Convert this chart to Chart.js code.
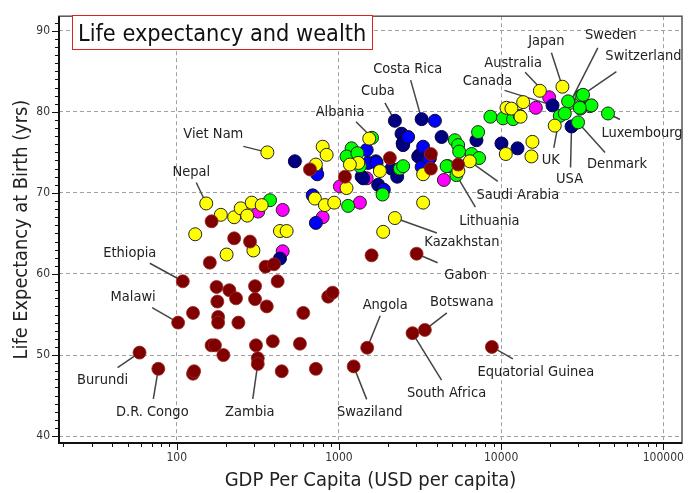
<!DOCTYPE html>
<html>
<head>
<meta charset="utf-8">
<script src="https://cdn.jsdelivr.net/npm/chart.js@4.4.0/dist/chart.umd.min.js"></script>
<style>
  html, body { margin: 0; padding: 0; background: #fff; }
</style>
</head>
<body>
<canvas id="chart" width="693" height="493"></canvas>
<script>
// Datos: [PIB per cápita (USD), esperanza de vida (años), país etiquetado]
const africa = [
  [109, 59.1, 'Ethiopia'], [102, 54.0, 'Malawi'], [59, 50.3, 'Burundi'], [77, 48.3, 'D.R. Congo'],
  [126, 55.2], [126, 47.7], [128, 48.0], [160, 61.4], [176, 58.4], [178, 56.6], [180, 54.7], [180, 54.0],
  [164, 51.2], [172, 51.2], [194, 50.0], [211, 58.0], [232, 57.0], [240, 54.0], [226, 64.4], [283, 64.0],
  [304, 58.5], [304, 56.9], [308, 51.2], [316, 49.6], [316, 48.9, 'Zambia'], [359, 56.0], [353, 60.9],
  [398, 61.2], [419, 59.1], [391, 51.7], [444, 48.0], [575, 51.4], [603, 55.2], [721, 48.3], [859, 57.2],
  [914, 57.7], [1233, 48.6, 'Swaziland'], [1590, 62.3], [3013, 62.5, 'Gabon'], [1494, 50.9, 'Angola'],
  [2844, 52.7, 'South Africa'], [3388, 53.1, 'Botswana'], [8770, 51.0, 'Equatorial Guinea'],
  [164, 66.5], [663, 72.9], [1089, 72.0], [2061, 74.3], [3690, 74.8], [3690, 73.0], [5433, 73.5]
];
const asia = [
  [362, 75.0, 'Viet Nam'], [152, 68.7, 'Nepal'], [130, 64.9], [187, 67.3], [226, 67.0], [248, 68.1],
  [272, 67.2], [290, 68.8], [334, 68.5], [433, 65.3], [476, 65.3], [203, 62.4], [297, 62.9], [794, 75.7],
  [840, 74.7], [721, 73.5], [711, 69.3], [820, 68.5], [935, 68.8], [1538, 76.7], [1316, 73.7], [1169, 73.5],
  [1789, 72.7], [2214, 66.9, 'Kazakhstan'], [1875, 65.2], [3305, 68.8], [3305, 72.3],
  [6412, 73.9, 'Saudi Arabia'], [10790, 80.5], [13030, 79.5], [13680, 81.2], [11580, 80.4], [13180, 79.4],
  [10690, 74.8], [15600, 76.3], [15380, 74.5], [23880, 83.1, 'Japan'], [17340, 82.6], [21420, 78.3],
  [5450, 72.7], [1114, 70.6]
];
const europe = [
  [376, 69.1], [1600, 76.8, 'Albania'], [1197, 75.5], [1256, 74.5], [1140, 68.4], [1114, 74.5], [2376, 73.0],
  [2489, 73.3], [1858, 69.8], [5188, 76.5], [5433, 75.9], [5510, 75.1], [4710, 73.3], [4613, 73.3],
  [5300, 72.2, 'Lithuania'], [6577, 74.8], [7311, 74.3], [7211, 77.5], [8590, 79.4], [10280, 79.2],
  [11860, 79.1], [26530, 81.1, 'Sweden'], [31260, 82.0, 'Switzerland'], [23000, 79.5, 'UK'],
  [29810, 78.7, 'Denmark'], [45600, 79.8, 'Luxembourg'], [25880, 81.3], [31990, 82.1], [35200, 80.7],
  [30830, 80.4], [24700, 79.8], [36060, 80.8], [30540, 80.5], [1347, 73.3], [1300, 74.9]
];
const northAmerica = [
  [2214, 78.9, 'Cuba'], [3236, 79.1, 'Costa Rica'], [27180, 78.2, 'USA'], [20750, 80.8, 'Canada'],
  [535, 73.9], [721, 72.9], [2432, 77.3], [2470, 76.1], [4295, 76.9], [3083, 74.5], [1380, 72.0],
  [1746, 71.0], [2287, 72.0], [2111, 73.0], [1413, 71.8], [10050, 76.1], [12620, 75.5], [7046, 76.5],
  [2489, 75.9], [433, 61.9], [3155, 74.7]
];
const southAmerica = [
  [3908, 78.9], [2672, 76.9], [3305, 75.7], [3639, 74.3], [3236, 73.2], [735, 72.3], [689, 69.7],
  [721, 66.3], [1892, 70.4], [1483, 75.3], [1690, 73.9], [1516, 73.7], [1706, 73.7], [3597, 74.2]
];
const oceania = [
  [318, 67.7], [450, 67.9], [794, 67.0], [450, 62.8], [1014, 70.8], [1347, 68.8], [4436, 71.6],
  [19770, 81.8, 'Australia'], [16370, 80.5], [1483, 71.8]
];

const yMajor = [40, 50, 60, 70, 80, 90];
const xMajor = [100, 1000, 10000, 100000];

// Posición de cada etiqueta respecto a su punto (px): centro del texto y arranque de la línea
const labelOffsets = {
  'Ethiopia': [-53, -28, -33, -18], 'Malawi': [-45, -25, -26, -15], 'Burundi': [-37, 28, -22, 15],
  'D.R. Congo': [-6, 43, -5, 30], 'Zambia': [-8, 48, -5, 35], 'Swaziland': [16, 46, 13, 33],
  'Angola': [18, -43, 13, -32], 'South Africa': [34, 60, 29, 47], 'Botswana': [37, -28, 22, -17],
  'Equatorial Guinea': [44, 25, 21, 12], 'Gabon': [49, 22, 21, 9], 'Kazakhstan': [67, 24, 42, 15],
  'Lithuania': [33, 46, 19, 32], 'Saudi Arabia': [48, 34, 28, 20], 'Viet Nam': [-54, -18, -24, -6],
  'Nepal': [-15, -31, -10, -21], 'Albania': [-32, -26, -16, -16], 'Cuba': [-17, -30, -10, -18],
  'Costa Rica': [-14, -50, -11, -39], 'Canada': [-65, -24, -48, -15], 'Australia': [-36, -34, -24, -25],
  'Japan': [-16, -45, -11, -34], 'Sweden': [41, -68, 28, -55], 'Switzerland': [62, -39, 35, -24],
  'Luxembourg': [34, 20, 12, 6], 'Denmark': [39, 42, 27, 30], 'UK': [-9, 44, -6, 32], 'USA': [-2, 53, -1, 41]
};

const FONT = "'DejaVu Sans Condensed', 'DejaVu Sans', sans-serif";

const yTicks = [];
for (let v = 40; v <= 91; v++) yTicks.push(v);
const xTicks = [];
[10, 100, 1000, 10000, 100000].forEach(d => { for (let m = 1; m <= 9; m++) if (d * m >= 20 && d * m <= 100000) xTicks.push(d * m); });

const toPoints = arr => arr.map(p => ({ x: p[0], y: p[1], name: p[2] }));

function makeSet(label, arr, fill, border) {
  return {
    label: label,
    data: toPoints(arr),
    backgroundColor: fill,
    borderColor: border,
    borderWidth: 1,
    pointRadius: 6.5,
    pointHoverRadius: 6.5
  };
}

const allSets = [africa, asia, europe, northAmerica, southAmerica, oceania];

function labelled(chart) {
  const out = [];
  allSets.forEach(s => s.forEach(p => {
    if (p[2]) out.push({ name: p[2], px: chart.scales.x.getPixelForValue(p[0]), py: chart.scales.y.getPixelForValue(p[1]) });
  }));
  return out;
}

const decor = {
  id: 'decor',
  beforeDatasetsDraw(chart) {
    const ctx = chart.ctx, a = chart.chartArea;
    ctx.save();
    ctx.beginPath(); ctx.rect(a.left, a.top, a.right - a.left, a.bottom - a.top); ctx.clip();
    ctx.strokeStyle = '#444'; ctx.lineWidth = 1.5;
    labelled(chart).forEach(l => {
      const o = labelOffsets[l.name];
      ctx.beginPath(); ctx.moveTo(l.px + o[2], l.py + o[3]); ctx.lineTo(l.px, l.py); ctx.stroke();
    });
    ctx.restore();
  },
  afterDatasetsDraw(chart) {
    const ctx = chart.ctx, a = chart.chartArea;
    ctx.save();
    ctx.beginPath(); ctx.rect(a.left, a.top, a.right - a.left, a.bottom - a.top); ctx.clip();
    ctx.font = '14.5px ' + FONT; ctx.fillStyle = '#222'; ctx.textAlign = 'center'; ctx.textBaseline = 'middle';
    labelled(chart).forEach(l => {
      const o = labelOffsets[l.name];
      ctx.fillText(l.name, l.px + o[0], l.py + o[1]);
    });
    ctx.restore();
  },
  afterDraw(chart) {
    const ctx = chart.ctx, a = chart.chartArea, sx = chart.scales.x, sy = chart.scales.y;
    ctx.save();
    // marco
    ctx.strokeStyle = '#555'; ctx.lineWidth = 1.5;
    ctx.strokeRect(a.left, a.top, a.right - a.left, a.bottom - a.top);
    ctx.strokeStyle = '#111'; ctx.lineWidth = 2;
    ctx.beginPath(); ctx.moveTo(a.left, a.top); ctx.lineTo(a.left, a.bottom); ctx.lineTo(a.right, a.bottom); ctx.stroke();
    // marcas de los ejes
    ctx.lineWidth = 1;
    yTicks.forEach(v => {
      const y = Math.round(sy.getPixelForValue(v)) + 0.5, len = yMajor.includes(v) ? 7 : 4;
      ctx.beginPath(); ctx.moveTo(a.left, y); ctx.lineTo(a.left - len, y); ctx.stroke();
    });
    xTicks.forEach(v => {
      const x = Math.round(sx.getPixelForValue(v)) + 0.5, len = xMajor.includes(v) ? 7 : 4;
      ctx.beginPath(); ctx.moveTo(x, a.bottom); ctx.lineTo(x, a.bottom + len); ctx.stroke();
    });
    // recuadro del título
    ctx.fillStyle = '#fff'; ctx.fillRect(72.5, 15.5, 300, 34);
    ctx.strokeStyle = '#e02020'; ctx.lineWidth = 1; ctx.strokeRect(72.5, 15.5, 300, 34);
    ctx.fillStyle = '#111'; ctx.font = '23.3px ' + FONT; ctx.textAlign = 'left'; ctx.textBaseline = 'alphabetic';
    ctx.fillText('Life expectancy and wealth', 78, 41);
    ctx.restore();
  }
};

const gridColor = major => ctx => (ctx.tick && major.includes(ctx.tick.value)) ? '#a0a0a0' : 'rgba(0,0,0,0)';

new Chart(document.getElementById('chart'), {
  type: 'scatter',
  data: {
    datasets: [
      makeSet('Africa', africa, '#800000', 'rgba(150,40,40,0.8)'),
      makeSet('Asia', asia, '#ffff00', '#222'),
      makeSet('Europe', europe, '#00ff00', '#222'),
      makeSet('South America', southAmerica, '#0000ff', '#111'),
      makeSet('North America', northAmerica, '#000080', '#000050'),
      makeSet('Oceania', oceania, '#ff00ff', '#222')
    ]
  },
  options: {
    responsive: false,
    animation: false,
    devicePixelRatio: 1,
    layout: { padding: { top: 7, right: 11, left: 0, bottom: 0 } },
    plugins: { legend: { display: false }, tooltip: { enabled: false } },
    scales: {
      x: {
        type: 'logarithmic',
        min: 18.8, max: 130400,
        afterBuildTicks: s => { s.ticks = xTicks.map(v => ({ value: v })); },
        afterFit: s => { s.height = 50; },
        grid: { color: gridColor(xMajor), drawTicks: false },
        border: { display: false, dash: [4, 3] },
        ticks: {
          autoSkip: false, maxRotation: 0, padding: 8, color: '#333',
          font: { family: FONT, size: 12 },
          callback: v => xMajor.includes(v) ? String(v) : ''
        },
        title: { display: true, text: 'GDP Per Capita (USD per capita)', color: '#222',
          font: { family: FONT, size: 20 }, padding: { top: 0, bottom: 0 } }
      },
      y: {
        min: 39.15, max: 91.8,
        afterBuildTicks: s => { s.ticks = yTicks.map(v => ({ value: v })); },
        afterFit: s => { s.width = 59; },
        grid: { color: gridColor(yMajor), drawTicks: false },
        border: { display: false, dash: [4, 3] },
        ticks: {
          autoSkip: false, padding: 9, color: '#333',
          font: { family: FONT, size: 12 },
          callback: v => yMajor.includes(v) ? String(v) : ''
        },
        title: { display: true, text: 'Life Expectancy at Birth (yrs)', color: '#222',
          font: { family: FONT, size: 19.8 }, padding: { top: 10, bottom: 0 } }
      }
    }
  },
  plugins: [decor]
});
</script>
</body>
</html>
